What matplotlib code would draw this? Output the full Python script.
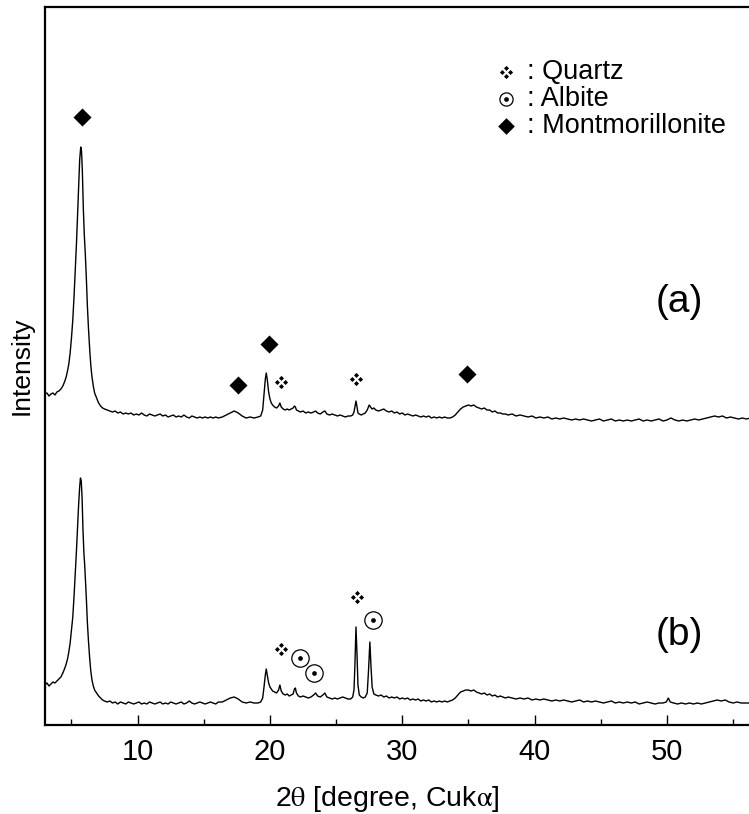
import numpy as np
import matplotlib.pyplot as plt
from matplotlib.path import Path

plt.rcParams['font.family'] = ['Liberation Sans', 'DejaVu Sans']
plt.rcParams['mathtext.fontset'] = 'stix'

# --- data: 2theta (deg) and intensity (arb. units) ---
two_theta_a = [
    3.0, 3.15, 3.3, 3.45, 3.6, 3.75, 3.9, 4.05, 4.2, 4.35, 4.5, 4.6, 4.7, 4.8, 4.9,
    5.0, 5.1, 5.2, 5.3, 5.38, 5.46, 5.54, 5.62, 5.7, 5.76, 5.82, 5.9, 5.97, 6.05,
    6.13, 6.2, 6.28, 6.38, 6.46, 6.55, 6.65, 6.75, 6.9, 7.05, 7.2, 7.35, 7.5, 7.7,
    7.9, 8.1, 8.3, 8.5, 8.7, 8.9, 9.1, 9.3, 9.5, 9.7, 9.9, 10.1, 10.3, 10.5, 10.7,
    10.9, 11.1, 11.3, 11.5, 11.7, 11.9, 12.1, 12.3, 12.5, 12.7, 12.9, 13.1, 13.3,
    13.5, 13.7, 13.9, 14.1, 14.3, 14.5, 14.7, 14.9, 15.1, 15.3, 15.5, 15.7, 15.9,
    16.1, 16.4, 16.7, 17.0, 17.3, 17.6, 17.9, 18.2, 18.5, 18.8, 19.1, 19.3, 19.45,
    19.55, 19.65, 19.72, 19.8, 19.9, 20.0, 20.1, 20.2, 20.35, 20.5, 20.65, 20.75,
    20.85, 21.0, 21.15, 21.3, 21.45, 21.6, 21.75, 21.85, 21.92, 22.0, 22.15, 22.3,
    22.5, 22.7, 22.9, 23.1, 23.3, 23.45, 23.6, 23.8, 24.0, 24.15, 24.3, 24.5, 24.7,
    24.9, 25.1, 25.3, 25.5, 25.7, 25.9, 26.1, 26.25, 26.35, 26.42, 26.5, 26.58,
    26.65, 26.75, 26.9, 27.05, 27.2, 27.35, 27.5, 27.6, 27.72, 27.85, 28.0, 28.2,
    28.4, 28.6, 28.8, 29.0, 29.2, 29.4, 29.6, 29.8, 30.0, 30.2, 30.4, 30.6, 30.8,
    31.0, 31.2, 31.4, 31.6, 31.8, 32.0, 32.2, 32.4, 32.6, 32.8, 33.0, 33.2, 33.4,
    33.6, 33.8, 34.0, 34.2, 34.4, 34.6, 34.8, 35.0, 35.2, 35.4, 35.6, 35.8, 36.0,
    36.2, 36.4, 36.6, 36.8, 37.0, 37.2, 37.4, 37.6, 37.8, 38.0, 38.3, 38.6, 38.9,
    39.2, 39.5, 39.8, 40.1, 40.4, 40.7, 41.0, 41.3, 41.6, 41.9, 42.2, 42.5, 42.8,
    43.1, 43.4, 43.7, 44.0, 44.3, 44.6, 44.9, 45.2, 45.5, 45.8, 46.1, 46.4, 46.7,
    47.0, 47.3, 47.6, 47.9, 48.2, 48.5, 48.8, 49.1, 49.4, 49.7, 50.0, 50.3, 50.6,
    50.9, 51.2, 51.5, 51.8, 52.1, 52.4, 52.7, 53.0, 53.3, 53.6, 53.9, 54.2, 54.5,
    54.8, 55.1, 55.4, 55.7, 56.0, 56.3,
]
intensity_a = [
    331, 332, 329, 331, 332, 330, 333, 334, 336, 339, 344, 348, 354, 361, 372,
    387, 405, 430, 458, 482, 510, 540, 565, 578, 574, 555, 515, 490, 470,
    445, 420, 398, 375, 360, 348, 339, 332, 327, 322, 319, 317, 316, 315,
    314, 313, 314, 312, 313, 311, 312, 311, 312, 310, 311, 310, 312, 310, 309,
    311, 310, 309, 310, 311, 309, 310, 308, 309, 310, 308, 309, 308,
    310, 308, 307, 309, 308, 307, 308, 307, 308, 307, 308, 307, 308,
    307, 308, 310, 312, 314, 312, 309, 307, 308, 307, 308, 309, 315,
    330, 346, 352, 345, 333, 326, 322, 320, 318, 317, 319, 322,
    318, 316, 315, 316, 315, 316, 317, 319, 318, 315, 314, 313,
    314, 312, 313, 312, 313, 314, 312, 311, 313, 314, 311, 310, 311,
    310, 309, 310, 309, 308, 309, 309, 310, 313, 318, 324, 318,
    312, 311, 310, 311, 312, 315, 320, 318, 316, 317, 315, 314,
    315, 316, 314, 313, 314, 312, 313, 311, 312, 310, 311, 310, 309,
    310, 309, 308, 309, 308, 309, 307, 308, 307, 308, 307, 308, 307,
    307, 308, 310, 313, 316, 318, 319, 320, 319, 320, 318, 317, 316,
    317, 315, 315, 313, 314, 312, 312, 311, 311, 310, 311, 309, 310,
    309, 308, 309, 307, 308, 307, 308, 306, 307, 306, 307, 306, 305,
    306, 305, 306, 305, 304, 305, 306, 304, 305, 306, 304, 305, 304,
    305, 304, 305, 306, 304, 305, 304, 305, 306, 304, 305, 307, 305,
    304, 305, 304, 305, 306, 305, 306, 307, 308, 309, 308, 309, 307,
    308, 307, 306, 307, 306, 307,
]

two_theta_b = [
    3.0, 3.15, 3.3, 3.45, 3.6, 3.75, 3.9, 4.05, 4.2, 4.35, 4.5, 4.6, 4.7, 4.8, 4.9,
    5.0, 5.1, 5.2, 5.3, 5.38, 5.46, 5.54, 5.62, 5.68, 5.74, 5.8, 5.87, 5.94, 6.0,
    6.07, 6.13, 6.2, 6.28, 6.38, 6.46, 6.55, 6.65, 6.75, 6.9, 7.05, 7.2, 7.35, 7.5,
    7.7, 7.9, 8.1, 8.3, 8.5, 8.7, 8.9, 9.1, 9.3, 9.5, 9.7, 9.9, 10.1, 10.3, 10.5,
    10.7, 10.9, 11.1, 11.3, 11.5, 11.7, 11.9, 12.1, 12.3, 12.5, 12.7, 12.9, 13.1,
    13.3, 13.5, 13.7, 13.9, 14.1, 14.3, 14.5, 14.7, 14.9, 15.1, 15.3, 15.5, 15.7,
    15.9, 16.1, 16.4, 16.7, 17.0, 17.3, 17.6, 17.9, 18.2, 18.5, 18.8, 19.1, 19.3,
    19.45, 19.55, 19.65, 19.72, 19.8, 19.9, 20.0, 20.1, 20.2, 20.35, 20.5, 20.65,
    20.75, 20.85, 21.0, 21.15, 21.3, 21.45, 21.6, 21.75, 21.85, 21.92, 22.0, 22.15,
    22.3, 22.5, 22.7, 22.9, 23.1, 23.3, 23.45, 23.6, 23.8, 24.0, 24.15, 24.3, 24.5,
    24.7, 24.9, 25.1, 25.3, 25.5, 25.7, 25.9, 26.1, 26.25, 26.35, 26.42, 26.5,
    26.58, 26.65, 26.75, 26.9, 27.05, 27.2, 27.35, 27.45, 27.55, 27.63, 27.72,
    27.85, 28.0, 28.2, 28.4, 28.6, 28.8, 29.0, 29.2, 29.4, 29.6, 29.8, 30.0, 30.2,
    30.4, 30.6, 30.8, 31.0, 31.2, 31.4, 31.6, 31.8, 32.0, 32.2, 32.4, 32.6, 32.8,
    33.0, 33.2, 33.4, 33.6, 33.8, 34.0, 34.2, 34.4, 34.6, 34.8, 35.0, 35.2, 35.4,
    35.6, 35.8, 36.0, 36.2, 36.4, 36.6, 36.8, 37.0, 37.2, 37.4, 37.6, 37.8, 38.0,
    38.3, 38.6, 38.9, 39.2, 39.5, 39.8, 40.1, 40.4, 40.7, 41.0, 41.3, 41.6, 41.9,
    42.2, 42.5, 42.8, 43.1, 43.4, 43.7, 44.0, 44.3, 44.6, 44.9, 45.2, 45.5, 45.8,
    46.1, 46.4, 46.7, 47.0, 47.3, 47.6, 47.9, 48.2, 48.5, 48.8, 49.1, 49.4, 49.7,
    49.95, 50.1, 50.25, 50.5, 50.8, 51.1, 51.4, 51.7, 52.0, 52.3, 52.6, 52.9, 53.2,
    53.5, 53.8, 54.1, 54.4, 54.7, 55.0, 55.3, 55.6, 55.9, 56.3,
]
intensity_b = [
    40, 42, 39, 41, 43, 42, 44, 46, 48, 52, 57, 61, 66, 73, 82,
    95, 108, 130, 155, 175, 198, 220, 238, 247, 244, 228, 195, 172, 160,
    142, 125, 103, 85, 66, 54, 45, 39, 35, 32, 29, 27, 25, 24,
    23, 24, 22, 23, 21, 23, 22, 21, 23, 22, 21, 22, 23, 21, 22,
    21, 23, 22, 21, 22, 23, 21, 22, 21, 23, 22, 21, 22,
    23, 21, 22, 24, 22, 21, 22, 23, 22, 21, 22, 23, 22,
    21, 23, 23, 25, 27, 28, 26, 23, 22, 23, 22, 22, 23,
    27, 38, 50, 56, 50, 42, 38, 36, 34, 33, 32, 35,
    40, 34, 31, 30, 31, 29, 30, 31, 36, 37, 32, 29,
    28, 29, 28, 27, 28, 30, 32, 29, 28, 30, 32, 28, 27,
    26, 27, 26, 27, 28, 27, 26, 26, 28, 35, 60, 98,
    70, 40, 30, 28, 27, 28, 32, 55, 83, 60, 38,
    31, 30, 29, 30, 28, 29, 27, 28, 27, 28, 26, 27, 26,
    27, 25, 26, 25, 26, 24, 25, 24, 25, 23, 24, 23, 24,
    23, 24, 23, 24, 25, 27, 30, 33, 34, 35, 35, 34, 35,
    33, 32, 31, 32, 30, 31, 29, 30, 28, 29, 28, 27, 28,
    27, 26, 27, 26, 27, 25, 26, 25, 26, 25, 24, 25, 24,
    25, 24, 23, 24, 25, 23, 24, 23, 24, 23, 22, 23, 24,
    22, 23, 22, 23, 22, 23, 21, 22, 23, 22, 21, 22, 22,
    23, 27, 23, 22, 21, 22, 21, 22, 21, 22, 21, 22, 23,
    24, 25, 24, 25, 23, 22, 23, 22, 22, 22,
]

# phase markers: (2theta, height)
mont_a = ([5.8, 17.6, 19.9, 34.9], [608, 340, 381, 351])
quartz_a = ([20.8, 26.5], [343, 346])
quartz_b = ([20.85, 26.6], [76, 128])
albite_b = ([22.25, 23.3, 27.76], [67, 52, 105])

legend_names = ['Quartz', 'Albite', 'Montmorillonite']
legend_rows = [653, 626, 599]

# four small diamonds -> quartz symbol
def quartz_path():
    verts, codes = [], []
    for cx, cy in [(0, 0.62), (0.62, 0), (0, -0.62), (-0.62, 0)]:
        r = 0.38
        pts = [(cx, cy + r), (cx + r, cy), (cx, cy - r), (cx - r, cy), (cx, cy + r)]
        verts += pts
        codes += [Path.MOVETO, Path.LINETO, Path.LINETO, Path.LINETO, Path.CLOSEPOLY]
    return Path(verts, codes)

QUARTZ = quartz_path()
DIAMOND = Path([(0, 1), (1, 0), (0, -1), (-1, 0), (0, 1)],
               [Path.MOVETO, Path.LINETO, Path.LINETO, Path.LINETO, Path.CLOSEPOLY])


def draw_quartz(ax, x, y, ms=9.5):
    ax.plot(x, y, ls='none', marker=QUARTZ, ms=ms, color='black', mew=0)


def draw_albite(ax, x, y, ms=12.5):
    ax.plot(x, y, ls='none', marker='o', ms=ms, mfc='white', mec='black', mew=0.9)
    ax.plot(x, y, ls='none', marker='o', ms=3.4, color='black', mew=0)


def draw_mont(ax, x, y, ms=13):
    ax.plot(x, y, ls='none', marker=DIAMOND, ms=ms, color='black', mew=0)


fig = plt.figure(figsize=(7.49, 8.14), dpi=100)
ax = fig.add_axes([45 / 749, 1 - 725 / 814, 1 - 45 / 749, 718 / 814])

ax.plot(two_theta_a, intensity_a, color='black', lw=1.0)
ax.plot(two_theta_b, intensity_b, color='black', lw=1.0)

draw_mont(ax, *mont_a)
draw_quartz(ax, *quartz_a)
draw_quartz(ax, *quartz_b)
draw_albite(ax, *albite_b)

# legend drawn by hand
draw_quartz(ax, [37.85], [legend_rows[0]], ms=9.5)
draw_albite(ax, [37.85], [legend_rows[1]], ms=9.5)
draw_mont(ax, [37.85], [legend_rows[2]], ms=12)
for name, row in zip(legend_names, legend_rows):
    ax.text(39.45, row, ': ' + name, fontsize=19.5, va='center', ha='left')

ax.text(50.9, 423, '(a)', fontsize=28, ha='center', va='center')
ax.text(50.9, 90, '(b)', fontsize=28, ha='center', va='center')

ax.set_xlim(3, 56.2)
ax.set_ylim(0, 718)
ax.set_xticks([10, 20, 30, 40, 50])
ax.set_xticks([5, 15, 25, 35, 45, 55], minor=True)
ax.set_yticks([])
ax.tick_params(axis='x', which='major', direction='in', length=7.5, width=1, labelsize=21, pad=9)
ax.tick_params(axis='x', which='minor', direction='in', length=4.5, width=1)
ax.spines['right'].set_visible(False)
for s in ['left', 'top', 'bottom']:
    ax.spines[s].set_linewidth(1.6)

ax.set_xlabel(r'2$\mathrm{\theta}$ [degree, Cuk$\mathrm{\alpha}$]', fontsize=20.5,
              labelpad=13, x=0.486)
ax.set_ylabel('Intensity', fontsize=19, labelpad=8)

fig.savefig('out.png', dpi=100)
